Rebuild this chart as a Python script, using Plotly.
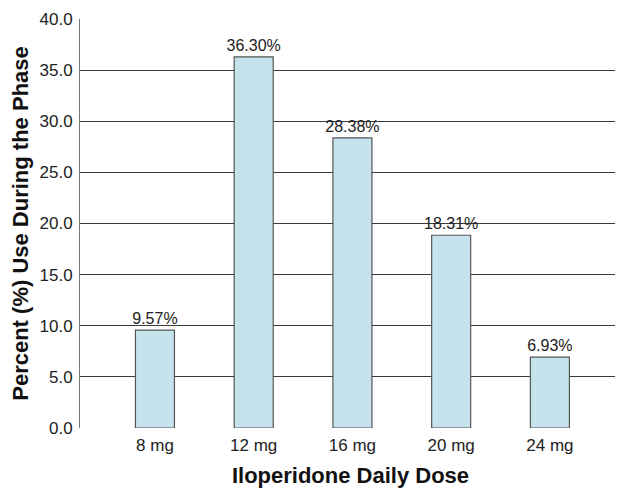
import plotly.graph_objects as go

categories = ["8 mg", "12 mg", "16 mg", "20 mg", "24 mg"]
bar_values = [9.57, 36.30, 28.38, 18.85, 6.93]
bar_labels = ["9.57%", "36.30%", "28.38%", "18.31%", "6.93%"]
y_ticks = [0, 5, 10, 15, 20, 25, 30, 35, 40]
y_tick_labels = ["0.0", "5.0", "10.0", "15.0", "20.0", "25.0", "30.0", "35.0", "40.0"]

font_family = "Liberation Sans, Arial, sans-serif"

fig = go.Figure(
    go.Bar(
        x=list(range(len(categories))),
        y=bar_values,
        text=bar_labels,
        textposition="outside",
        textangle=0,
        constraintext="none",
        textfont=dict(size=16, color="#222222", family=font_family),
        cliponaxis=False,
        width=0.395,
        marker=dict(color="#c6e3ed", line=dict(color="#555555", width=1.2)),
    )
)

fig.update_layout(
    width=615,
    height=480,
    margin=dict(l=72, r=2, t=11, b=60),
    paper_bgcolor="white",
    plot_bgcolor="white",
    showlegend=False,
    font=dict(family=font_family, color="#222222"),
    uniformtext=dict(mode=False),
)

fig.update_xaxes(
    range=[-0.759, 4.72],
    tickvals=list(range(len(categories))),
    ticktext=categories,
    tickfont=dict(size=17, color="#222222"),
    showgrid=False,
    showline=False,
    zeroline=False,
    ticks="",
    ticklabelstandoff=5,
    automargin=False,
    title=dict(
        text="<b>Iloperidone Daily Dose</b>",
        font=dict(size=22, color="#111111"),
        standoff=15,
    ),
)

fig.update_yaxes(
    range=[0, 40],
    tickvals=y_ticks,
    ticktext=y_tick_labels,
    tickfont=dict(size=17, color="#222222"),
    showgrid=True,
    gridcolor="#3a3a3a",
    gridwidth=1.4,
    showline=True,
    linecolor="#777777",
    linewidth=1,
    zeroline=False,
    ticks="",
    ticklabelstandoff=3,
    automargin=False,
    title=dict(
        text="<b>Percent (%) Use During the Phase</b>",
        font=dict(size=22, color="#111111"),
        standoff=9,
    ),
)

fig.write_html("out.html")
